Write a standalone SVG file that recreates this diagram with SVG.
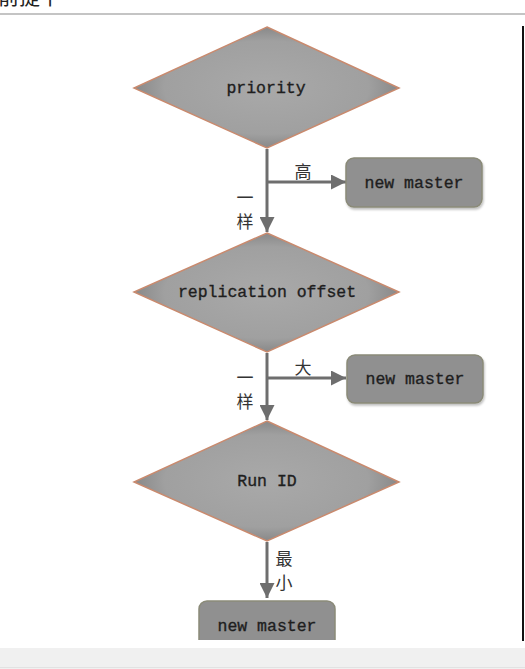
<svg xmlns="http://www.w3.org/2000/svg" width="525" height="669" viewBox="0 0 525 669">
<defs>
<radialGradient id="dg" cx="50%" cy="50%" r="55%">
<stop offset="0" stop-color="#a9a9a9"/>
<stop offset="0.7" stop-color="#a0a0a0"/>
<stop offset="1" stop-color="#7e7e7e"/>
</radialGradient>
<marker id="ah" viewBox="0 0 10 10" refX="10" refY="5" markerWidth="5" markerHeight="5" markerUnits="strokeWidth" orient="auto">
<path d="M0,0 L10,5 L0,10 Z" fill="#6e6e6e"/>
</marker>
<filter id="sh" x="-10%" y="-10%" width="120%" height="130%">
<feGaussianBlur in="SourceAlpha" stdDeviation="1.2"/>
<feOffset dx="1" dy="1.5" result="b"/>
<feFlood flood-color="#000" flood-opacity="0.25"/>
<feComposite in2="b" operator="in"/>
<feMerge><feMergeNode/><feMergeNode in="SourceGraphic"/></feMerge>
</filter>
</defs>
<style>
.dia{fill:url(#dg);stroke:#c98a6e;stroke-width:1.5}
.box{fill:#909090;stroke:#8a8a78;stroke-width:1.5}
.t{font-family:"Liberation Mono","DejaVu Sans Mono",monospace;font-size:16.5px;fill:#1e1e1e;stroke:#1e1e1e;stroke-width:0.35;text-anchor:middle;dominant-baseline:central}
.c{stroke:#6e6e6e;stroke-width:3;fill:none}
.z{font-family:"Noto Sans CJK SC","Noto Sans",sans-serif;font-size:17px;fill:#333;text-anchor:middle;dominant-baseline:central}
</style>
<rect width="525" height="669" fill="#ffffff"/>
<text x="-2" y="4" font-family="Noto Sans CJK SC, sans-serif" font-size="21" fill="#222">前提下</text>
<rect x="0" y="13" width="525" height="2" fill="#c4c4c4"/>
<rect x="522" y="26" width="2" height="615" fill="#111"/>
<rect x="0" y="648" width="525" height="21" fill="#f0f0f0"/>
<rect x="0" y="667" width="525" height="1" fill="#e2e2e2"/>

<g id="connectors">
<line class="c" x1="267" y1="149" x2="267" y2="232" marker-end="url(#ah)"/>
<line class="c" x1="267" y1="182" x2="346" y2="182" marker-end="url(#ah)"/>
<line class="c" x1="267" y1="353" x2="267" y2="420" marker-end="url(#ah)"/>
<line class="c" x1="267" y1="378" x2="346" y2="378" marker-end="url(#ah)"/>
<line class="c" x1="267" y1="542" x2="267" y2="598" marker-end="url(#ah)"/>
<text class="z" x="303" y="170">高</text>
<text class="z" x="245" y="196">一</text>
<text class="z" x="245" y="220">样</text>
<text class="z" x="303" y="366">大</text>
<text class="z" x="245" y="376">一</text>
<text class="z" x="245" y="400">样</text>
<text class="z" x="284" y="557">最</text>
<text class="z" x="284" y="581">小</text>
</g>

<g id="priority">
<polygon class="dia" points="267,27 399,88 267,148 134,88"/>
<text class="t" x="266" y="88">priority</text>
</g>
<g id="master1">
<rect class="box" x="346" y="158" width="136" height="49" rx="8" filter="url(#sh)"/>
<text class="t" x="414" y="183">new master</text>
</g>
<g id="offset">
<polygon class="dia" points="267,233 399,292 267,352 134,292"/>
<text class="t" x="267" y="292">replication offset</text>
</g>
<g id="master2">
<rect class="box" x="347" y="355" width="136" height="48" rx="8" filter="url(#sh)"/>
<text class="t" x="415" y="379">new master</text>
</g>
<g id="runid">
<polygon class="dia" points="267,421 399,482 267,541 134,482"/>
<text class="t" x="267" y="481">Run ID</text>
</g>
<g id="master3">
<svg x="0" y="0" width="525" height="640" overflow="hidden">
<rect class="box" x="199" y="601" width="136" height="60" rx="8"/>
</svg>
<text class="t" x="267" y="626">new master</text>
</g>
</svg>
